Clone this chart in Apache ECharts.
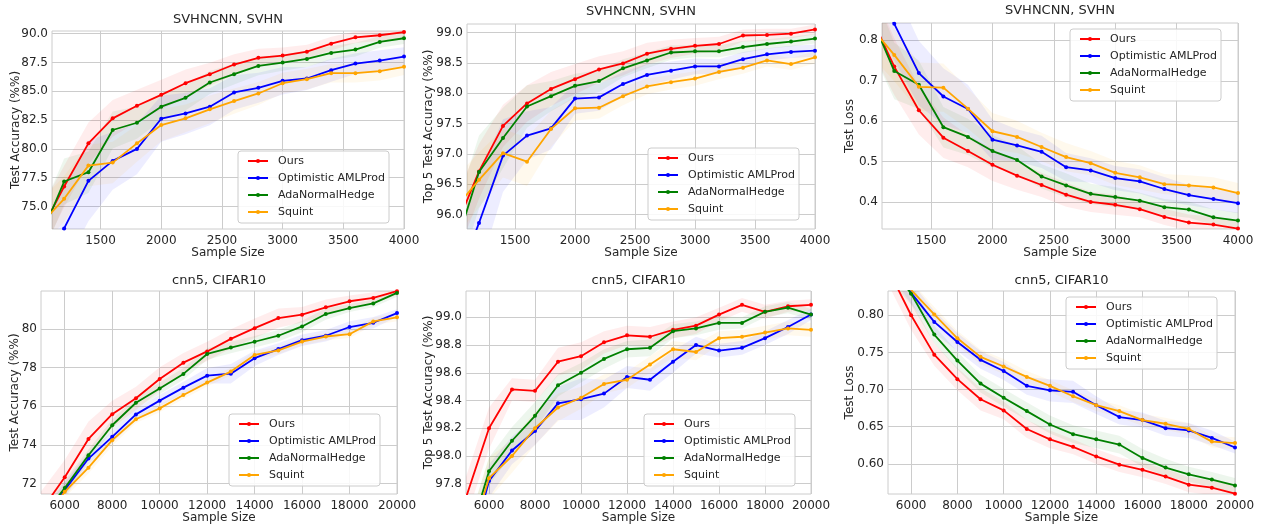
<!DOCTYPE html>
<html lang="en" style="background: #ffffff;height: 100%">
<head>
    <meta charset="utf-8"/>
    <title>Model selection: accuracy and loss vs sample size</title>
    <script type="text/javascript" src="https://cdn.jsdelivr.net/npm/echarts@6.0.0/dist/echarts.min.js"></script>
</head>
<body style="margin: 0;height: 100%">
<div id="chart" style="width: 1263px;height: 529px"></div>
<script>
    // methods, same order in every panel
    const METHODS = ['Ours', 'Optimistic AMLProd', 'AdaNormalHedge', 'Squint'];

    // sample sizes
    const SVHN_SIZES = [1000, 1200, 1400, 1600, 1800, 2000, 2200, 2400, 2600, 2800, 3000, 3200, 3400, 3600, 3800, 4000];
    const CIFAR_SIZES = [5000, 6000, 7000, 8000, 9000, 10000, 11000, 12000, 13000, 14000, 15000, 16000, 17000, 18000, 19000, 20000];

    // tick labels
    const SVHN_X_TICKS = [1500, 2000, 2500, 3000, 3500, 4000];
    const CIFAR_X_TICKS = [6000, 8000, 10000, 12000, 14000, 16000, 18000, 20000];
    const SVHN_ACC_TICKS = [75, 77.5, 80, 82.5, 85, 87.5, 90];
    const SVHN_TOP5_TICKS = [96, 96.5, 97, 97.5, 98, 98.5, 99];
    const SVHN_LOSS_TICKS = [0.4, 0.5, 0.6, 0.7, 0.8];
    const CIFAR_ACC_TICKS = [72, 74, 76, 78, 80];
    const CIFAR_TOP5_TICKS = [97.8, 98.0, 98.2, 98.4, 98.6, 98.8, 99.0];
    const CIFAR_LOSS_TICKS = [0.60, 0.65, 0.70, 0.75, 0.80];

    const TITLES = ['SVHNCNN, SVHN', 'SVHNCNN, SVHN', 'SVHNCNN, SVHN', 'cnn5, CIFAR10', 'cnn5, CIFAR10', 'cnn5, CIFAR10'];
    const Y_NAMES = ['Test Accuracy (%%)', 'Top 5 Test Accuracy (%%)', 'Test Loss', 'Test Accuracy (%%)', 'Top 5 Test Accuracy (%%)', 'Test Loss'];

    // SVHN test accuracy: Ours, Optimistic AMLProd, AdaNormalHedge, Squint
    const SVHN_ACC = [
        [72.7, 76.74, 80.48, 82.65, 83.74, 84.69, 85.70, 86.48, 87.32, 87.9, 88.1, 88.44, 89.13, 89.68, 89.86, 90.14],
        [69.5, 73.1, 77.23, 78.96, 80.0, 82.62, 83.08, 83.66, 84.9, 85.3, 85.91, 86.11, 86.83, 87.4, 87.66, 88.01],
        [72.2, 77.17, 77.98, 81.64, 82.27, 83.66, 84.43, 85.76, 86.48, 87.2, 87.49, 87.81, 88.33, 88.62, 89.28, 89.6],
        [73.4, 75.67, 78.55, 78.81, 80.48, 82.07, 82.65, 83.43, 84.15, 84.81, 85.7, 86.05, 86.57, 86.57, 86.74, 87.12]
    ];
    const SVHN_ACC_BAND = [
        [2.0, 1.8, 1.8, 1.6, 1.4, 1.3, 1.2, 1.0, 0.9, 0.8, 0.7, 0.6, 0.6, 0.5, 0.5, 0.5],
        [3.5, 3.5, 3.5, 2.5, 2.2, 2.0, 1.8, 1.6, 1.5, 1.3, 1.2, 1.0, 1.0, 0.9, 0.9, 0.8],
        [2.0, 2.0, 1.8, 1.6, 1.4, 1.2, 1.1, 1.0, 0.9, 0.8, 0.7, 0.7, 0.6, 0.6, 0.5, 0.5],
        [2.0, 2.0, 1.8, 1.8, 1.6, 1.4, 1.2, 1.2, 1.1, 1.0, 0.9, 0.9, 0.8, 0.8, 0.8, 0.7]
    ];

    // SVHN top 5 accuracy
    const SVHN_TOP5 = [
        [95.75, 96.71, 97.46, 97.83, 98.07, 98.23, 98.39, 98.49, 98.65, 98.73, 98.78, 98.81, 98.95, 98.96, 98.98, 99.05],
        [94.8, 95.86, 96.97, 97.3, 97.42, 97.91, 97.93, 98.15, 98.3, 98.37, 98.44, 98.44, 98.56, 98.64, 98.68, 98.7],
        [95.44, 96.70, 97.26, 97.78, 97.95, 98.12, 98.2, 98.41, 98.54, 98.67, 98.69, 98.69, 98.76, 98.81, 98.85, 98.9],
        [96.1, 96.57, 97.01, 96.87, 97.41, 97.75, 97.76, 97.95, 98.11, 98.18, 98.24, 98.35, 98.42, 98.54, 98.48, 98.59]
    ];
    const SVHN_TOP5_BAND = [
        [0.5, 0.45, 0.35, 0.3, 0.28, 0.25, 0.22, 0.2, 0.18, 0.15, 0.13, 0.12, 0.1, 0.1, 0.08, 0.08],
        [0.8, 0.8, 0.6, 0.4, 0.35, 0.25, 0.22, 0.2, 0.18, 0.15, 0.13, 0.12, 0.12, 0.1, 0.1, 0.1],
        [0.6, 0.6, 0.5, 0.35, 0.25, 0.2, 0.18, 0.15, 0.13, 0.12, 0.1, 0.1, 0.1, 0.08, 0.08, 0.08],
        [0.5, 0.45, 0.4, 0.4, 0.3, 0.2, 0.18, 0.15, 0.13, 0.12, 0.12, 0.12, 0.1, 0.1, 0.1, 0.1]
    ];

    // SVHN test loss
    const SVHN_LOSS = [
        [0.865, 0.735, 0.627, 0.559, 0.526, 0.492, 0.465, 0.442, 0.418, 0.4, 0.393, 0.382, 0.363, 0.349, 0.344, 0.334],
        [0.96, 0.841, 0.719, 0.661, 0.63, 0.554, 0.54, 0.524, 0.486, 0.478, 0.459, 0.451, 0.432, 0.417, 0.407, 0.397],
        [0.866, 0.724, 0.69, 0.585, 0.561, 0.526, 0.504, 0.463, 0.441, 0.42, 0.412, 0.403, 0.387, 0.381, 0.362, 0.354],
        [0.836, 0.764, 0.685, 0.683, 0.631, 0.575, 0.561, 0.536, 0.511, 0.496, 0.472, 0.461, 0.444, 0.441, 0.436, 0.422]
    ];
    const SVHN_LOSS_BAND = [
        [0.08, 0.07, 0.06, 0.05, 0.04, 0.04, 0.035, 0.03, 0.03, 0.025, 0.025, 0.02, 0.02, 0.02, 0.02, 0.02],
        [0.1, 0.09, 0.08, 0.07, 0.06, 0.05, 0.04, 0.04, 0.035, 0.03, 0.03, 0.03, 0.03, 0.025, 0.025, 0.025],
        [0.08, 0.07, 0.06, 0.05, 0.045, 0.04, 0.035, 0.03, 0.03, 0.025, 0.025, 0.02, 0.02, 0.02, 0.02, 0.02],
        [0.07, 0.065, 0.06, 0.06, 0.05, 0.045, 0.04, 0.035, 0.035, 0.03, 0.03, 0.03, 0.025, 0.025, 0.025, 0.025]
    ];

    // CIFAR10 test accuracy
    const CIFAR_ACC = [
        [70.6, 72.33, 74.31, 75.59, 76.41, 77.41, 78.25, 78.83, 79.48, 80.03, 80.55, 80.73, 81.11, 81.42, 81.59, 81.94],
        [70.0, 71.68, 73.3, 74.42, 75.58, 76.29, 76.96, 77.58, 77.68, 78.48, 78.95, 79.41, 79.64, 80.09, 80.31, 80.81],
        [70.2, 71.78, 73.47, 75.02, 76.18, 76.92, 77.67, 78.7, 79.03, 79.33, 79.64, 80.12, 80.76, 81.07, 81.31, 81.85],
        [70.0, 71.58, 72.83, 74.25, 75.33, 75.89, 76.58, 77.22, 77.79, 78.65, 78.88, 79.34, 79.6, 79.72, 80.38, 80.59]
    ];
    const CIFAR_ACC_BAND = [
        [1.0, 0.9, 0.9, 0.7, 0.6, 0.6, 0.5, 0.5, 0.5, 0.5, 0.5, 0.4, 0.4, 0.3, 0.3, 0.2],
        [0.4, 0.4, 0.3, 0.3, 0.3, 0.3, 0.3, 0.4, 0.5, 0.4, 0.3, 0.3, 0.3, 0.3, 0.3, 0.2],
        [0.4, 0.4, 0.3, 0.3, 0.3, 0.3, 0.3, 0.3, 0.3, 0.3, 0.3, 0.3, 0.3, 0.2, 0.2, 0.2],
        [0.3, 0.3, 0.3, 0.3, 0.2, 0.2, 0.2, 0.2, 0.2, 0.2, 0.2, 0.2, 0.2, 0.2, 0.2, 0.2]
    ];

    // CIFAR10 top 5 accuracy
    const CIFAR_TOP5 = [
        [97.7, 98.2, 98.48, 98.47, 98.68, 98.72, 98.82, 98.87, 98.86, 98.91, 98.94, 99.02, 99.09, 99.04, 99.08, 99.09],
        [97.2, 97.82, 98.04, 98.18, 98.38, 98.41, 98.45, 98.57, 98.55, 98.68, 98.8, 98.76, 98.78, 98.85, 98.93, 99.02],
        [97.34, 97.89, 98.11, 98.29, 98.51, 98.6, 98.7, 98.77, 98.78, 98.9, 98.92, 98.96, 98.96, 99.04, 99.07, 99.02],
        [97.3, 97.84, 98.0, 98.2, 98.35, 98.42, 98.52, 98.55, 98.66, 98.77, 98.75, 98.85, 98.86, 98.89, 98.92, 98.91]
    ];
    const CIFAR_TOP5_BAND = [
        [0.15, 0.15, 0.08, 0.08, 0.1, 0.1, 0.08, 0.07, 0.07, 0.06, 0.06, 0.05, 0.05, 0.05, 0.04, 0.04],
        [0.15, 0.12, 0.1, 0.1, 0.12, 0.15, 0.1, 0.08, 0.08, 0.08, 0.06, 0.05, 0.05, 0.05, 0.05, 0.04],
        [0.12, 0.1, 0.1, 0.1, 0.08, 0.07, 0.07, 0.06, 0.06, 0.05, 0.05, 0.05, 0.04, 0.04, 0.04, 0.04],
        [0.15, 0.15, 0.12, 0.12, 0.1, 0.08, 0.07, 0.06, 0.06, 0.06, 0.06, 0.05, 0.05, 0.05, 0.05, 0.05]
    ];

    // CIFAR10 test loss
    const CIFAR_LOSS = [
        [0.862, 0.8, 0.747, 0.714, 0.687, 0.672, 0.647, 0.633, 0.623, 0.61, 0.599, 0.592, 0.583, 0.572, 0.568, 0.56],
        [0.88, 0.83, 0.791, 0.764, 0.74, 0.725, 0.705, 0.699, 0.697, 0.679, 0.663, 0.659, 0.648, 0.645, 0.635, 0.622],
        [0.87, 0.829, 0.774, 0.739, 0.708, 0.689, 0.671, 0.653, 0.64, 0.633, 0.626, 0.608, 0.595, 0.586, 0.579, 0.571],
        [0.89, 0.834, 0.801, 0.769, 0.744, 0.731, 0.717, 0.705, 0.691, 0.679, 0.671, 0.659, 0.654, 0.647, 0.63, 0.628]
    ];
    const CIFAR_LOSS_BAND = [
        [0.02, 0.02, 0.015, 0.015, 0.015, 0.012, 0.012, 0.012, 0.01, 0.01, 0.01, 0.01, 0.01, 0.01, 0.01, 0.01],
        [0.02, 0.015, 0.015, 0.012, 0.012, 0.012, 0.012, 0.015, 0.015, 0.012, 0.01, 0.01, 0.01, 0.01, 0.01, 0.008],
        [0.02, 0.015, 0.012, 0.012, 0.012, 0.012, 0.012, 0.012, 0.012, 0.012, 0.012, 0.012, 0.012, 0.01, 0.01, 0.01],
        [0.015, 0.012, 0.01, 0.01, 0.01, 0.01, 0.008, 0.008, 0.008, 0.008, 0.008, 0.008, 0.008, 0.008, 0.008, 0.008]
    ];

    window.onload = function () {
        const COLORS = ['#ff0000', '#0000ff', '#008000', '#ffa500'];
        const TEXT = '#262626';
        const GRID_LINE = '#cccccc';
        const FONT = 'DejaVu Sans';

        // panel data wiring
        const panels = [
            {xs: SVHN_SIZES, xTicks: SVHN_X_TICKS, yTicks: SVHN_ACC_TICKS, vals: SVHN_ACC, bands: SVHN_ACC_BAND, digits: 1},
            {xs: SVHN_SIZES, xTicks: SVHN_X_TICKS, yTicks: SVHN_TOP5_TICKS, vals: SVHN_TOP5, bands: SVHN_TOP5_BAND, digits: 1},
            {xs: SVHN_SIZES, xTicks: SVHN_X_TICKS, yTicks: SVHN_LOSS_TICKS, vals: SVHN_LOSS, bands: SVHN_LOSS_BAND, digits: 1},
            {xs: CIFAR_SIZES, xTicks: CIFAR_X_TICKS, yTicks: CIFAR_ACC_TICKS, vals: CIFAR_ACC, bands: CIFAR_ACC_BAND, digits: 0},
            {xs: CIFAR_SIZES, xTicks: CIFAR_X_TICKS, yTicks: CIFAR_TOP5_TICKS, vals: CIFAR_TOP5, bands: CIFAR_TOP5_BAND, digits: 1},
            {xs: CIFAR_SIZES, xTicks: CIFAR_X_TICKS, yTicks: CIFAR_LOSS_TICKS, vals: CIFAR_LOSS, bands: CIFAR_LOSS_BAND, digits: 2}
        ];

        // layout of each panel (pixels) and visible axis window
        const layout = [
            {left: 52, top: 31, width: 352, height: 198, xMin: 1100, xMax: 4000, yMin: 73.05, yMax: 90.23, titleTop: 13, yGap: 30, legLeft: 238, legTop: 151},
            {left: 467, top: 24, width: 348, height: 205, xMin: 1100, xMax: 4000, yMin: 95.76, yMax: 99.14, titleTop: 5, yGap: 32, legLeft: 648, legTop: 148},
            {left: 882, top: 23, width: 356, height: 206, xMin: 1100, xMax: 4000, yMin: 0.333, yMax: 0.843, titleTop: 4, yGap: 26, legLeft: 1070, legTop: 29},
            {left: 41, top: 291, width: 356, height: 203, xMin: 5000, xMax: 20000, yMin: 71.47, yMax: 81.95, titleTop: 274, yGap: 20, legLeft: 229, legTop: 414},
            {left: 466, top: 291, width: 345, height: 203, xMin: 5000, xMax: 20000, yMin: 97.726, yMax: 99.19, titleTop: 274, yGap: 31, legLeft: 644, legTop: 414},
            {left: 888, top: 291, width: 347, height: 203, xMin: 5000, xMax: 20000, yMin: 0.5595, yMax: 0.8326, titleTop: 274, yGap: 32, legLeft: 1066, legTop: 297}
        ];

        let chart = echarts.init(document.getElementById('chart'), null, {renderer: 'canvas'});
        let option = {
            animation: false,
            backgroundColor: '#ffffff',
            textStyle: {fontFamily: FONT, color: TEXT},
            title: [], legend: [], grid: [], xAxis: [], yAxis: [], series: []
        };

        panels.forEach(function (p, g) {
            const L = layout[g];

            option.grid.push({
                left: L.left, top: L.top, width: L.width, height: L.height,
                show: true, borderColor: GRID_LINE, borderWidth: 1, backgroundColor: '#ffffff',
                containLabel: false, outerBoundsMode: 'none'
            });

            option.title.push({
                text: TITLES[g],
                left: L.left + L.width / 2, top: L.titleTop, textAlign: 'center', padding: 0,
                textStyle: {fontFamily: FONT, fontSize: 13, fontWeight: 'normal', color: TEXT}
            });

            option.xAxis.push({
                type: 'value', gridIndex: g, min: L.xMin, max: L.xMax,
                name: 'Sample Size', nameLocation: 'middle', nameGap: 18, nameMoveOverlap: false,
                nameTextStyle: {fontFamily: FONT, fontSize: 12, color: TEXT},
                axisLine: {show: false},
                axisTick: {show: false, customValues: p.xTicks},
                axisLabel: {
                    customValues: p.xTicks, margin: 6, fontFamily: FONT, fontSize: 12, color: TEXT,
                    formatter: function (v) { return String(v); }
                },
                splitLine: {show: true, lineStyle: {color: GRID_LINE, width: 1}}
            });

            option.yAxis.push({
                type: 'value', gridIndex: g, min: L.yMin, max: L.yMax,
                name: Y_NAMES[g], nameLocation: 'middle', nameGap: L.yGap, nameMoveOverlap: false,
                nameTextStyle: {fontFamily: FONT, fontSize: 12, color: TEXT},
                axisLine: {show: false},
                axisTick: {show: false, customValues: p.yTicks},
                axisLabel: {
                    customValues: p.yTicks, margin: 4, fontFamily: FONT, fontSize: 12, color: TEXT,
                    formatter: function (v) { return v.toFixed(p.digits); }
                },
                splitLine: {show: true, lineStyle: {color: GRID_LINE, width: 1}}
            });

            option.legend.push({
                data: METHODS, orient: 'vertical', left: L.legLeft, top: L.legTop,
                itemWidth: 20, itemHeight: 5, itemGap: 5,
                padding: [4, 4, 5, 9],
                backgroundColor: 'rgba(255,255,255,0.85)', borderColor: GRID_LINE, borderWidth: 1, borderRadius: 3,
                textStyle: {fontFamily: FONT, fontSize: 11, lineHeight: 12, color: TEXT, padding: [0, 0, 0, 5]},
                selectedMode: false
            });

            // shaded spread bands
            METHODS.forEach(function (m, k) {
                const vals = p.vals[k], band = p.bands[k];
                option.series.push({
                    type: 'custom', name: m + ' spread', xAxisIndex: g, yAxisIndex: g,
                    clip: true, silent: true, z: 1,
                    data: p.xs.map(function (x, i) { return [x, vals[i] - band[i], vals[i] + band[i]]; }),
                    encode: {x: 0, y: [1, 2]},
                    renderItem: function (params, api) {
                        if (params.dataIndex !== 0) return;
                        let lower = [], upper = [];
                        for (let i = 0; i < p.xs.length; i++) {
                            lower.push(api.coord([p.xs[i], vals[i] - band[i]]));
                            upper.push(api.coord([p.xs[i], vals[i] + band[i]]));
                        }
                        return {
                            type: 'polygon',
                            shape: {points: lower.concat(upper.reverse())},
                            style: {fill: COLORS[k], opacity: 0.07}
                        };
                    }
                });
            });

            // mean lines
            METHODS.forEach(function (m, k) {
                option.series.push({
                    type: 'line', name: m, xAxisIndex: g, yAxisIndex: g,
                    data: p.xs.map(function (x, i) { return [x, p.vals[k][i]]; }),
                    symbol: 'circle', symbolSize: 4, showSymbol: true, clip: true, z: 3 + k,
                    lineStyle: {color: COLORS[k], width: 1.8},
                    itemStyle: {color: COLORS[k]},
                    emphasis: {disabled: true}
                });
            });
        });

        chart.setOption(option);
    }
</script>
</body>
</html>
